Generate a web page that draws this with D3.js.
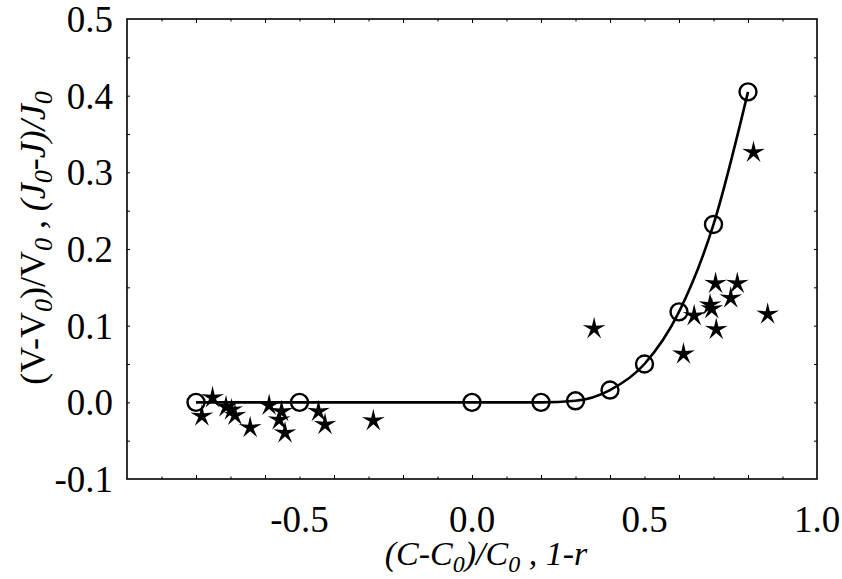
<!DOCTYPE html>
<html>
<head>
<meta charset="utf-8">
<script src="https://cdn.jsdelivr.net/npm/d3@7"></script>
<style>
  html, body { margin: 0; padding: 0; background: #fff; }
  svg { display: block; }
  text { font-family: "Liberation Serif", "Times New Roman", Times, serif; fill: #000; }
</style>
</head>
<body>
<svg id="chart" width="842" height="579"></svg>
<script>
// Model curve (open circles joined by a smooth line)
const modelX = [-0.8, -0.5, 0.0, 0.2, 0.3, 0.4, 0.5, 0.6, 0.7, 0.8];
const modelY = [0.0, 0.0, 0.0, 0.0, 0.002, 0.016, 0.050, 0.118, 0.232, 0.405];

// Measured points (stars)
const measX = [-0.752, -0.783, -0.713, -0.697, -0.687, -0.643, -0.588, -0.552, -0.559, -0.542, -0.445, -0.426, -0.286,
               0.354, 0.613, 0.644, 0.690, 0.695, 0.706, 0.708, 0.750, 0.769, 0.816, 0.857];
const measY = [0.006, -0.018, -0.006, -0.010, -0.017, -0.033, -0.004, -0.012, -0.023, -0.040, -0.012, -0.029, -0.024,
               0.096, 0.063, 0.113, 0.127, 0.122, 0.155, 0.095, 0.136, 0.155, 0.326, 0.115];

// Axis ticks
const xTickLabels = [-0.5, 0.0, 0.5, 1.0];
const yTickLabels = [-0.1, 0.0, 0.1, 0.2, 0.3, 0.4, 0.5];

const margin = { left: 127, right: 25, top: 19, bottom: 100 };
const W = 842, H = 579;
const svg = d3.select("#chart");

const x = d3.scaleLinear().domain([-1, 1]).range([margin.left, W - margin.right]);
const y = d3.scaleLinear().domain([-0.1, 0.5]).range([H - margin.bottom, margin.top]);

// one decimal, plain hyphen for negatives
const fmt = d => d3.format(".1f")(d).replace("\u2212", "-");
const ticksMinorX = d3.range(-10, 11).map(d => d / 10);
const ticksY = d3.range(-2, 11).map(d => d / 20);

// Frame ticks (inward) on all four sides
function onStep(v, step) {
  return Math.abs(Math.round(v / step) - v / step) < 1e-6;
}
const g = svg.append("g");
g.append("g").attr("transform", `translate(0,${y(-0.1)})`)
  .call(d3.axisBottom(x).tickValues(ticksMinorX.filter(v => v > -1 && v < 1)).tickFormat("")
    .tickSizeInner(0).tickSizeOuter(0))
  .call(a => a.select(".domain").remove())
  .selectAll(".tick line").attr("y2", d => onStep(d, 0.2) ? -4 : -2.5).attr("stroke-width", 1);
g.append("g").attr("transform", `translate(0,${y(0.5)})`)
  .call(d3.axisTop(x).tickValues(ticksMinorX.filter(v => v > -1 && v < 1)).tickFormat("")
    .tickSizeInner(0).tickSizeOuter(0))
  .call(a => a.select(".domain").remove())
  .selectAll(".tick line").attr("y2", d => onStep(d, 0.2) ? 4 : 2.5).attr("stroke-width", 1);
g.append("g").attr("transform", `translate(${x(-1)},0)`)
  .call(d3.axisLeft(y).tickValues(ticksY.filter(v => v > -0.1 && v < 0.5)).tickFormat("")
    .tickSizeInner(0).tickSizeOuter(0))
  .call(a => a.select(".domain").remove())
  .selectAll(".tick line").attr("x2", 3).attr("stroke-width", 1);
g.append("g").attr("transform", `translate(${x(1)},0)`)
  .call(d3.axisRight(y).tickValues(ticksY.filter(v => v > -0.1 && v < 0.5)).tickFormat("")
    .tickSizeInner(0).tickSizeOuter(0))
  .call(a => a.select(".domain").remove())
  .selectAll(".tick line").attr("x2", -3).attr("stroke-width", 1);

// Frame
svg.append("rect")
  .attr("x", x(-1)).attr("y", y(0.5))
  .attr("width", x(1) - x(-1)).attr("height", y(-0.1) - y(0.5))
  .attr("fill", "none").attr("stroke", "#000").attr("stroke-width", 1.6);

// Tick labels
svg.append("g").selectAll("text").data(xTickLabels).join("text")
  .attr("x", d => x(d)).attr("y", 532)
  .attr("text-anchor", "middle").attr("font-size", 37)
  .text(d => fmt(d));
svg.append("g").selectAll("text").data(yTickLabels).join("text")
  .attr("x", 113).attr("y", d => y(d) + 13)
  .attr("text-anchor", "end").attr("font-size", 37)
  .text(d => fmt(d));

// Axis titles
const xt = svg.append("text")
  .attr("x", 486).attr("y", 565)
  .attr("text-anchor", "middle").attr("font-size", 34).attr("font-style", "italic");
xt.append("tspan").text("(C-C");
xt.append("tspan").attr("font-size", 24).attr("dy", 7).text("0");
xt.append("tspan").attr("dy", -7).text(")/C");
xt.append("tspan").attr("font-size", 24).attr("dy", 7).text("0");
xt.append("tspan").attr("dy", -7).text(" , 1-r");

const yt = svg.append("text")
  .attr("transform", `translate(45,238) rotate(-90)`)
  .attr("text-anchor", "middle").attr("font-size", 36);
yt.append("tspan").text("(V-V");
yt.append("tspan").attr("font-size", 26).attr("dy", 7).attr("font-style", "italic").text("0");
yt.append("tspan").attr("dy", -7).text(")/V");
yt.append("tspan").attr("font-size", 26).attr("dy", 7).attr("font-style", "italic").text("0");
yt.append("tspan").attr("dy", -7).text(" , ");
yt.append("tspan").attr("font-style", "italic").text("(J");
yt.append("tspan").attr("font-size", 26).attr("dy", 7).attr("font-style", "italic").text("0");
yt.append("tspan").attr("dy", -7).attr("font-style", "italic").text("-J)/J");
yt.append("tspan").attr("font-size", 26).attr("dy", 7).attr("font-style", "italic").text("0");

// Model curve
const model = modelX.map((v, i) => [v, modelY[i]]);
svg.append("path")
  .datum(model)
  .attr("fill", "none").attr("stroke", "#000").attr("stroke-width", 2.6)
  .attr("d", d3.line().x(d => x(d[0])).y(d => y(d[1])).curve(d3.curveMonotoneX));

svg.append("g").selectAll("circle").data(model).join("circle")
  .attr("cx", d => x(d[0])).attr("cy", d => y(d[1])).attr("r", 8.5)
  .attr("fill", "none").attr("stroke", "#000").attr("stroke-width", 2.4);

// Thin five-pointed star symbol
const thinStar = {
  draw(ctx, size) {
    const R = Math.sqrt(size);
    const r = R * 0.3;
    for (let i = 0; i < 10; i++) {
      const rad = i % 2 === 0 ? R : r;
      const a = -Math.PI / 2 + i * Math.PI / 5;
      const px = rad * Math.cos(a), py = rad * Math.sin(a);
      if (i === 0) ctx.moveTo(px, py); else ctx.lineTo(px, py);
    }
    ctx.closePath();
  }
};
const meas = measX.map((v, i) => [v, measY[i]]);
svg.append("g").selectAll("path").data(meas).join("path")
  .attr("transform", d => `translate(${x(d[0])},${y(d[1])})`)
  .attr("d", d3.symbol().type(thinStar).size(144))
  .attr("fill", "#000");
</script>
</body>
</html>
